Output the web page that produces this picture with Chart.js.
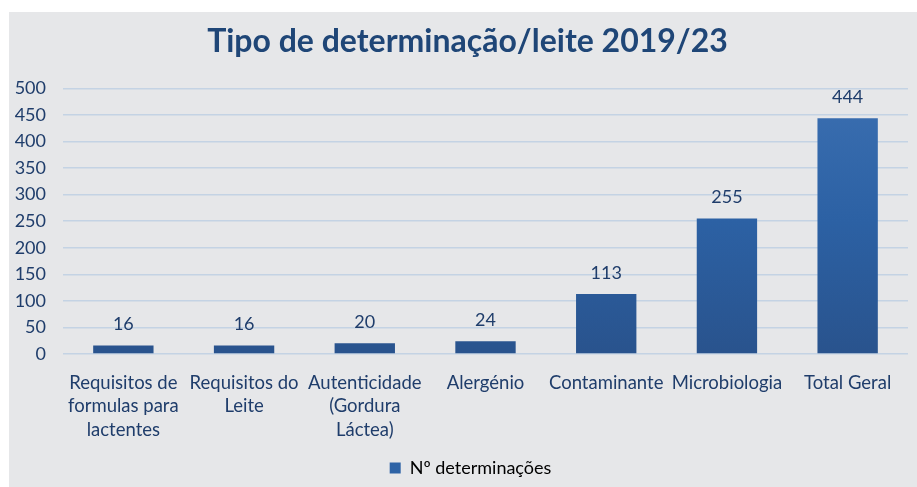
<!DOCTYPE html>
<html>
<head>
<meta charset="utf-8">
<script src="https://cdn.jsdelivr.net/npm/chart.js@4/dist/chart.umd.min.js"></script>
<style>
  html, body { margin: 0; padding: 0; background: #fff; }
  #panel { position: absolute; left: 9px; top: 12px; width: 908px; height: 475px; background: #e6e7e9; }
  canvas { display: block; }
</style>
</head>
<body>
<div id="panel"><canvas id="c" width="908" height="475"></canvas></div>
<script>
// Tipo de determinação / leite 2019/23
const categories = [
  ['Requisitos de', 'formulas para', 'lactentes'],
  ['Requisitos do', 'Leite'],
  ['Autenticidade', '(Gordura', 'Láctea)'],
  'Alergénio',
  'Contaminante',
  'Microbiologia',
  'Total Geral',
];
const values = [16, 16, 20, 24, 113, 255, 444];
const seriesLabel = 'Nº determinações';
const titleText = 'Tipo de determinação/leite 2019/23';

const textColor = '#1f3d6b';
const gridColor = '#c4d3e4';
const FONT = 'Lato, "Open Sans", sans-serif';

// Valores por cima das barras
const valueLabels = {
  id: 'valueLabels',
  afterDatasetsDraw(chart) {
    const ctx = chart.ctx;
    const meta = chart.getDatasetMeta(0);
    ctx.save();
    ctx.fillStyle = textColor;
    ctx.font = '18px ' + FONT;
    ctx.textAlign = 'center';
    ctx.textBaseline = 'bottom';
    meta.data.forEach((bar, i) => {
      ctx.fillText(String(values[i]), bar.x, bar.y - 12);
    });
    ctx.restore();
  },
};

// Заголовок и легенда в оригинале чуть смещены вправо от центра
const shiftBlocks = {
  id: 'shiftBlocks',
  afterLayout(chart) {
    if (chart.titleBlock) chart.titleBlock.left += 18;
    if (chart.legend) chart.legend.left += 24;
  },
};

function barFill(context) {
  const { chart } = context;
  const area = chart.chartArea;
  if (!area) return '#2e63a6';
  const g = chart.ctx.createLinearGradient(0, area.top, 0, area.bottom);
  g.addColorStop(0, '#3b6fb1');
  g.addColorStop(0.5, '#2c61a4');
  g.addColorStop(1, '#29538d');
  return g;
}

new Chart(document.getElementById('c'), {
  type: 'bar',
  data: {
    labels: categories,
    datasets: [{
      label: seriesLabel,
      data: values,
      backgroundColor: barFill,
      borderWidth: 0,
      barPercentage: 0.5,
      categoryPercentage: 1,
    }],
  },
  options: {
    responsive: false,
    animation: false,
    layout: { padding: { left: 0, right: 9, top: 0, bottom: 0 } },
    plugins: {
      title: {
        display: true,
        text: titleText,
        color: '#1f4677',
        font: { family: FONT, size: 32, weight: 'bold' },
        padding: { top: 10, bottom: 28 },
      },
      legend: {
        position: 'bottom',
        labels: {
          color: textColor,
          font: { family: FONT, size: 18 },
          boxWidth: 11,
          boxHeight: 11,
          padding: 8,
          generateLabels: (chart) => [{
            text: seriesLabel,
            fillStyle: '#2e63a6',
            strokeStyle: '#2e63a6',
            lineWidth: 0,
            datasetIndex: 0,
          }],
        },
      },
      tooltip: { enabled: false },
    },
    scales: {
      x: {
        grid: { display: false },
        border: { display: false },
        ticks: {
          color: textColor,
          font: { family: FONT, size: 18.5, lineHeight: 1.28 },
          maxRotation: 0,
          autoSkip: false,
          padding: 9,
        },
      },
      y: {
        min: 0,
        max: 500,
        grid: { color: gridColor, lineWidth: 1.5, drawTicks: false },
        border: { display: false },
        afterFit: (scale) => { scale.width = 54; },
        ticks: {
          stepSize: 50,
          color: textColor,
          font: { family: FONT, size: 18 },
          padding: 17,
        },
      },
    },
  },
  plugins: [valueLabels, shiftBlocks],
});
</script>
</body>
</html>
